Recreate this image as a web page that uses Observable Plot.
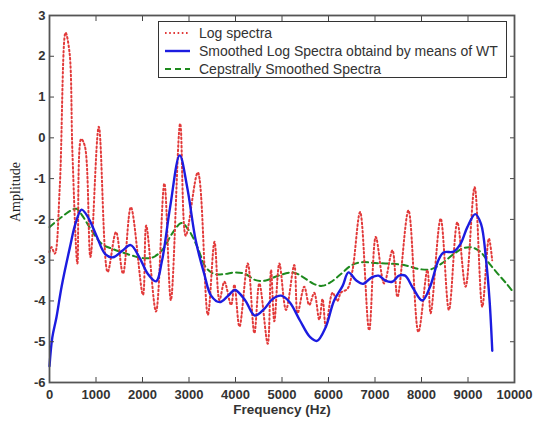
<!DOCTYPE html>
<html>
<head>
<meta charset="utf-8">
<script src="https://cdn.jsdelivr.net/npm/d3@7"></script>
<script src="https://cdn.jsdelivr.net/npm/@observablehq/plot@0.6"></script>
<style>
  html, body { margin: 0; padding: 0; background: #fff; }
  #wrap { position: relative; width: 534px; height: 425px; }
  #legend {
    position: absolute; left: 158px; top: 21px; width: 349px; height: 57px;
    border: 1.3px solid #333; background: #fff; box-sizing: border-box;
    font-family: "Liberation Sans", Arial, sans-serif; font-size: 14px; color: #333;
  }
  .row { position: absolute; left: 0; height: 18px; display: flex; align-items: center; }
  .row svg { margin-left: 6px; margin-right: 9px; }
</style>
</head>
<body>
<div id="wrap"></div>
<script>
// ---- data ----
const xTicks = [0, 1000, 2000, 3000, 4000, 5000, 6000, 7000, 8000, 9000, 10000];
const yTicks = [3, 2, 1, 0, -1, -2, -3, -4, -5, -6];

const seriesNames = ["Log spectra", "Smoothed Log Spectra obtaind by means of WT", "Cepstrally Smoothed Spectra"];

const logFreq = [0, 43, 114, 221, 345, 430, 494, 600, 680, 760, 880, 1060, 1250, 1430, 1580, 1750, 2010, 2080, 2290, 2470, 2610, 2810, 2930, 3190, 3405, 3548, 3655, 3762, 3905, 3976, 4085, 4264, 4406, 4513, 4693, 4764, 4835, 4943, 5086, 5264, 5336, 5479, 5586, 5693, 5801, 5872, 5944, 6087, 6190, 6266, 6409, 6516, 6680, 6874, 7017, 7196, 7375, 7483, 7719, 7933, 8126, 8197, 8412, 8590, 8770, 8948, 9142, 9307, 9449, 9520];
const logAmp = [-2.8, -2.68, -2.84, -1.2, 2.58, 2.1, -0.4, -3.08, -0.03, -0.2, -2.92, 0.27, -3.29, -2.31, -3.33, -1.7, -3.85, -2.15, -4.26, -1.12, -3.98, 0.35, -2.4, -0.85, -4.34, -2.55, -3.98, -3.53, -4.1, -3.6, -4.63, -3.08, -4.79, -3.57, -5.05, -3.24, -4.5, -3.08, -4.22, -3.12, -4.3, -3.65, -4.1, -3.8, -4.46, -3.95, -4.63, -3.8, -4.0, -3.8, -3.7, -3.25, -1.82, -4.72, -2.43, -3.57, -2.76, -3.9, -1.78, -4.76, -3.24, -4.3, -1.98, -4.22, -2.07, -3.65, -1.21, -4.14, -2.47, -3.0];

const wtFreq = [0, 60, 150, 260, 440, 560, 690, 830, 1010, 1198, 1366, 1565, 1745, 1932, 2116, 2290, 2420, 2594, 2800, 2961, 3145, 3328, 3475, 3659, 3843, 3990, 4210, 4416, 4614, 4798, 4982, 5165, 5386, 5606, 5753, 5937, 6121, 6304, 6429, 6598, 6745, 6929, 7076, 7223, 7370, 7517, 7649, 7810, 8016, 8178, 8361, 8472, 8692, 8839, 8986, 9155, 9280, 9390, 9464, 9522];
const wtAmp = [-5.6, -4.9, -4.4, -3.65, -2.68, -2.1, -1.76, -1.95, -2.4, -2.85, -2.93, -2.77, -2.63, -2.93, -3.34, -3.52, -3.01, -1.70, -0.43, -1.21, -2.52, -3.34, -3.87, -4.03, -3.87, -3.73, -3.99, -4.36, -4.2, -3.95, -3.87, -4.03, -4.48, -4.89, -4.98, -4.65, -3.99, -3.63, -3.30, -3.50, -3.58, -3.42, -3.38, -3.50, -3.53, -3.38, -3.38, -3.67, -3.99, -3.67, -3.01, -2.81, -2.79, -2.60, -2.19, -1.87, -2.11, -3.01, -3.99, -5.22];

const cepFreq = [0, 206, 463, 580, 683, 904, 1124, 1345, 1565, 1785, 2006, 2226, 2447, 2630, 2840, 2998, 3181, 3365, 3549, 3769, 3990, 4210, 4431, 4651, 4871, 5239, 5459, 5680, 5863, 6047, 6268, 6488, 6709, 7003, 7370, 7664, 7958, 8214, 8472, 8692, 8912, 9096, 9280, 9464, 9647, 9831, 9978];
const cepAmp = [-2.19, -1.99, -1.78, -1.74, -1.87, -2.27, -2.6, -2.72, -2.81, -2.89, -2.95, -2.93, -2.72, -2.36, -2.09, -2.27, -2.68, -3.18, -3.34, -3.34, -3.3, -3.34, -3.49, -3.5, -3.4, -3.3, -3.42, -3.58, -3.63, -3.54, -3.34, -3.13, -3.05, -3.07, -3.09, -3.13, -3.22, -3.22, -3.05, -2.85, -2.7, -2.69, -2.81, -3.09, -3.34, -3.58, -3.79];

// ---- styles ----
const colors = ["#e23a3a", "#1c1ce0", "#1e8a1e"];
const dashes = ["1.6,2.6", null, "6,4"];
const widths = [2, 2.4, 2];

const toRows = (xs, ys) => xs.map((x, i) => ({x, y: ys[i]}));
const logData = toRows(logFreq, logAmp);
const wtData = toRows(wtFreq, wtAmp);
const cepData = toRows(cepFreq, cepAmp);

const tickFont = {fontFamily: "Liberation Sans, Arial, sans-serif", fontSize: 13, fontWeight: "bold", fill: "#333"};

const chart = Plot.plot({
  width: 534,
  height: 425,
  marginLeft: 49,
  marginRight: 20,
  marginTop: 15,
  marginBottom: 43,
  style: {background: "#fff", fontFamily: "Liberation Sans, Arial, sans-serif"},
  x: {domain: [0, 10000]},
  y: {domain: [-6, 3]},
  marks: [
    Plot.line(cepData, {x: "x", y: "y", stroke: colors[2], strokeWidth: widths[2], strokeDasharray: dashes[2], curve: "catmull-rom"}),
    Plot.line(logData, {x: "x", y: "y", stroke: colors[0], strokeWidth: widths[0], strokeDasharray: dashes[0], curve: "catmull-rom"}),
    Plot.line(wtData, {x: "x", y: "y", stroke: colors[1], strokeWidth: widths[1], curve: "catmull-rom"}),
    // inward ticks on all four sides
    Plot.axisX({anchor: "bottom", ticks: xTicks, tickSize: -5, tickFormat: () => "", label: null, stroke: "#444"}),
    Plot.axisX({anchor: "top", ticks: xTicks, tickSize: -5, tickFormat: () => "", label: null, stroke: "#444"}),
    Plot.axisY({anchor: "left", ticks: yTicks, tickSize: -5, tickFormat: () => "", label: null, stroke: "#444"}),
    Plot.axisY({anchor: "right", ticks: yTicks, tickSize: -5, tickFormat: () => "", label: null, stroke: "#444"}),
    // tick labels
    Plot.axisX({anchor: "bottom", ticks: xTicks, tickSize: 0, tickPadding: 7, tickFormat: d => String(d), label: null, ...tickFont}),
    Plot.axisY({anchor: "left", ticks: yTicks, tickSize: 0, tickPadding: 4, tickFormat: d => String(d), label: null, ...tickFont}),
    // axis titles
    Plot.text(["Frequency (Hz)"], {frameAnchor: "bottom", dy: 31, text: d => d, ...tickFont, fontSize: 13.5}),
    Plot.text(["Amplitude"], {frameAnchor: "left", rotate: -90, dx: -34, dy: 23, text: d => d, fontFamily: "Liberation Serif, Times New Roman, serif", fontSize: 14, fill: "#222"}),
    Plot.frame({stroke: "#555", strokeWidth: 1.8})
  ]
});

const wrap = document.getElementById("wrap");
wrap.appendChild(chart);

// legend overlay inside the axes, as in the reference
const legend = document.createElement("div");
legend.id = "legend";
const rowTops = [2, 20, 37.5];
seriesNames.forEach((name, i) => {
  const row = document.createElement("div");
  row.className = "row";
  row.style.top = rowTops[i] + "px";
  const dash = dashes[i] ? `stroke-dasharray="${dashes[i]}"` : "";
  row.innerHTML = `<svg width="25" height="6"><line x1="0" y1="3" x2="25" y2="3" stroke="${colors[i]}" stroke-width="${widths[i]}" ${dash}/></svg><span>${name}</span>`;
  legend.appendChild(row);
});
wrap.appendChild(legend);
</script>
</body>
</html>
